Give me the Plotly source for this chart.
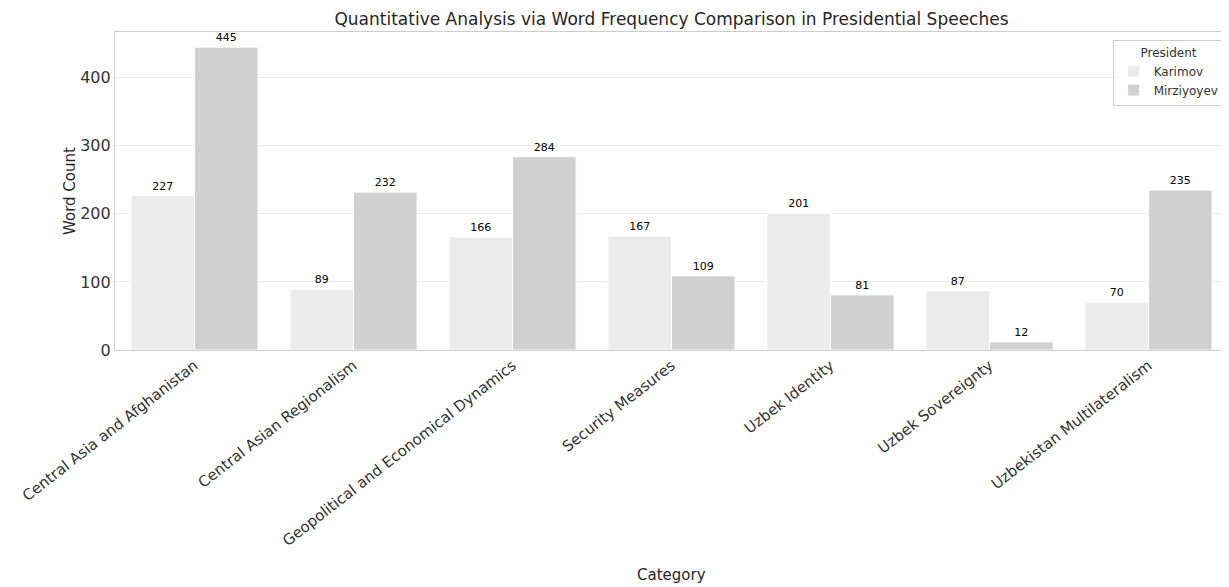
import plotly.graph_objects as go

categories = ["Central Asia and Afghanistan", "Central Asian Regionalism",
              "Geopolitical and Economical Dynamics", "Security Measures",
              "Uzbek Identity", "Uzbek Sovereignty", "Uzbekistan Multilateralism"]
karimov = [227, 89, 166, 167, 201, 87, 70]
mirziyoyev = [445, 232, 284, 109, 81, 12, 235]
series_names = ["Karimov", "Mirziyoyev"]
series_colors = ["#ebebeb", "#d0d0d0"]

W, H = 1229, 587
OFF = 8  # page body offset
L, T, B, R = 115 - OFF, 32 - OFF, 350 - OFF, 1228 - OFF
plot_h = B - T

fig = go.Figure()
for name, vals, col in zip(series_names, [karimov, mirziyoyev], series_colors):
    fig.add_trace(go.Bar(
        x=categories, y=vals, name=name,
        marker=dict(color=col, line=dict(color="white", width=1)),
        text=[str(v) for v in vals], textposition="outside",
        textfont=dict(size=11, color="black", family="DejaVu Sans"),
        cliponaxis=False,
    ))

fig.update_layout(
    width=W, height=H,
    margin=dict(l=L, r=W - R, t=T, b=H - B, autoexpand=False),
    paper_bgcolor="white", plot_bgcolor="white",
    font=dict(family="DejaVu Sans", color="#333333"),
    barmode="group", bargap=0.2, bargroupgap=0,
    title=dict(text="Quantitative Analysis via Word Frequency Comparison in Presidential Speeches",
               x=0.5, xanchor="center", xref="paper", y=1 - 11 / H, yanchor="middle",
               font=dict(size=17, color="#262626")),
    legend=dict(title=dict(text="President", side="top center", font=dict(size=12)),
                x=0.997, xanchor="right", y=0.975, yanchor="top",
                bgcolor="white", bordercolor="#cccccc", borderwidth=1,
                font=dict(size=12), itemwidth=30),
    showlegend=True,
    annotations=[dict(text="Category", xref="paper", yref="paper", x=0.5,
                      y=(B - (575 - OFF)) / plot_h, xanchor="center", yanchor="middle",
                      showarrow=False, font=dict(size=15, color="#262626"))],
)
fig.update_xaxes(
    type="category", range=[-0.5, 6.5], tickangle=-38, automargin=False,
    showline=True, linecolor="#cccccc", linewidth=1.2, mirror=True,
    showgrid=False, ticks="", tickfont=dict(size=15, color="#333333"),
)
fig.update_yaxes(
    range=[0, 467.25], tickvals=[0, 100, 200, 300, 400], automargin=False,
    showline=True, linecolor="#cccccc", linewidth=1.2, mirror=True,
    showgrid=True, gridcolor="#ebebeb", gridwidth=1, zeroline=False,
    ticks="", tickfont=dict(size=16, color="#333333"),
    title=dict(text="Word Count", font=dict(size=15, color="#262626"), standoff=0),
)
fig.write_html("out.html")
